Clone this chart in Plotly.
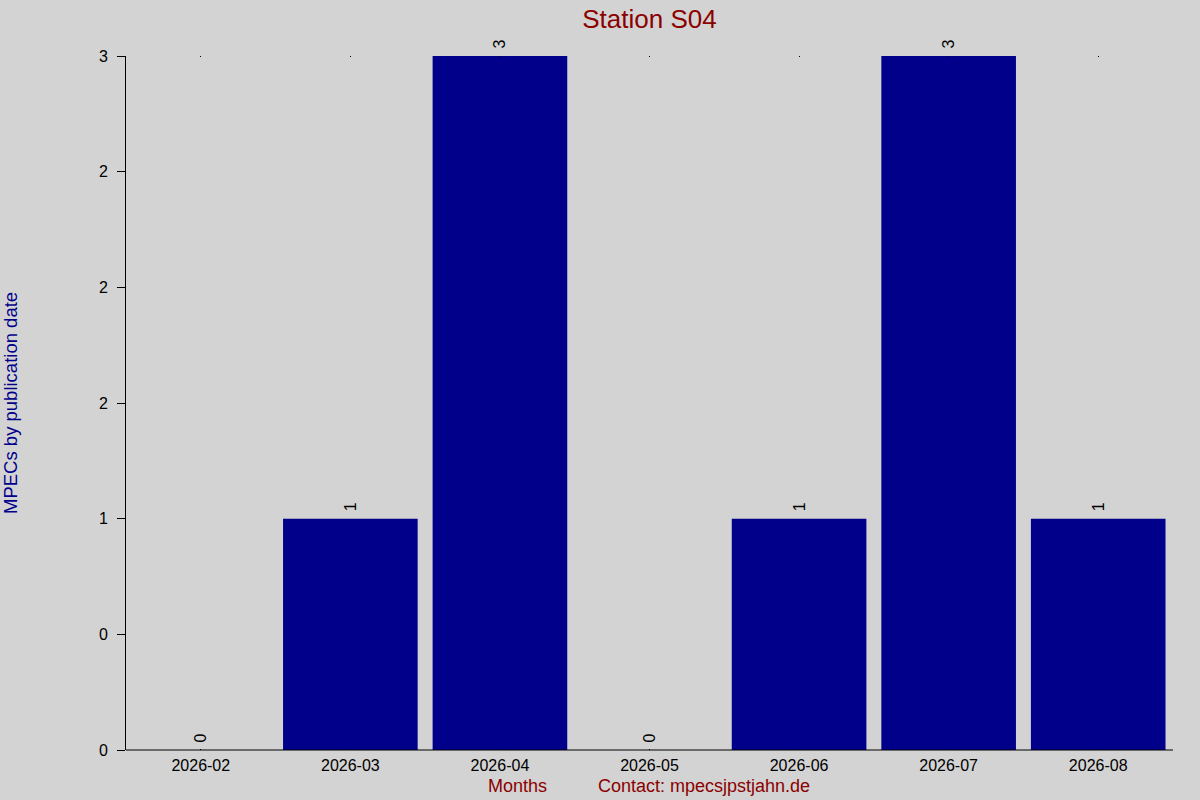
import plotly.graph_objects as go

months = ["2026-02", "2026-03", "2026-04", "2026-05", "2026-06", "2026-07", "2026-08"]
counts = [0, 1, 3, 0, 1, 3, 1]
y_tickvals = [0, 0.5, 1, 1.5, 2, 2.5, 3]
y_ticktext = ["0", "0", "1", "2", "2", "2", "3"]

font = "Liberation Sans, Arial, sans-serif"
grey = "#d3d3d3"
navy = "#00008b"
red = "#8b0000"

fig = go.Figure()
fig.add_trace(
    go.Bar(
        x=months,
        y=counts,
        width=0.9,
        marker_color=navy,
        marker_line_width=0,
        # leading nbsp gives the little gap above the bar top
        text=["\u00a0" + str(c) for c in counts],
        textposition="outside",
        textangle=-90,
        textfont=dict(family=font, size=16, color="black"),
        cliponaxis=False,
    )
)

fig.update_layout(
    width=1200,
    height=800,
    paper_bgcolor=grey,
    plot_bgcolor=grey,
    showlegend=False,
    margin=dict(l=126, r=27, t=56, b=50),
    font=dict(family=font, size=16, color="black"),
    title=dict(
        text="Station S04",
        x=0.5 + (126 - 27) / 2 / 1200,
        xanchor="center",
        y=0.977,
        yanchor="middle",
        font=dict(family=font, size=26, color=red),
    ),
    xaxis=dict(
        type="category",
        range=[-0.5, 6.5],
        showgrid=False,
        showline=False,
        mirror="ticks",
        ticks="inside",
        ticklen=1,
        tickcolor="black",
        ticklabelstandoff=4,
        tickfont=dict(size=16, color="black"),
    ),
    yaxis=dict(
        range=[0, 3],
        tickvals=y_tickvals,
        ticktext=y_ticktext,
        showgrid=False,
        zeroline=False,
        showline=True,
        linecolor="black",
        linewidth=1,
        ticks="outside",
        ticklen=8,
        tickcolor="black",
        ticklabelstandoff=6,
        tickfont=dict(size=16, color="black"),
    ),
    shapes=[
        dict(type="line", xref="paper", yref="paper", x0=0, x1=1, y0=0, y1=0,
             line=dict(color="black", width=1)),
    ],
    annotations=[
        dict(text="MPECs by publication date", xref="paper", yref="paper",
             x=(10 - 126) / 1047, y=0.5, xanchor="center", yanchor="middle",
             textangle=-90, showarrow=False,
             font=dict(family=font, size=18.5, color=navy)),
        dict(text="Months", xref="paper", yref="paper",
             x=(517 - 126) / 1047, y=-36 / 694, xanchor="center", yanchor="middle",
             showarrow=False, font=dict(family=font, size=18, color=red)),
        dict(text="Contact: mpecsjpstjahn.de", xref="paper", yref="paper",
             x=(704 - 126) / 1047, y=-36 / 694, xanchor="center", yanchor="middle",
             showarrow=False, font=dict(family=font, size=18, color=red)),
    ],
)

fig.write_html(
    "out.html",
    config={"displayModeBar": False},
    post_script="document.body.style.margin='0';document.body.style.background='#d3d3d3';",
)
